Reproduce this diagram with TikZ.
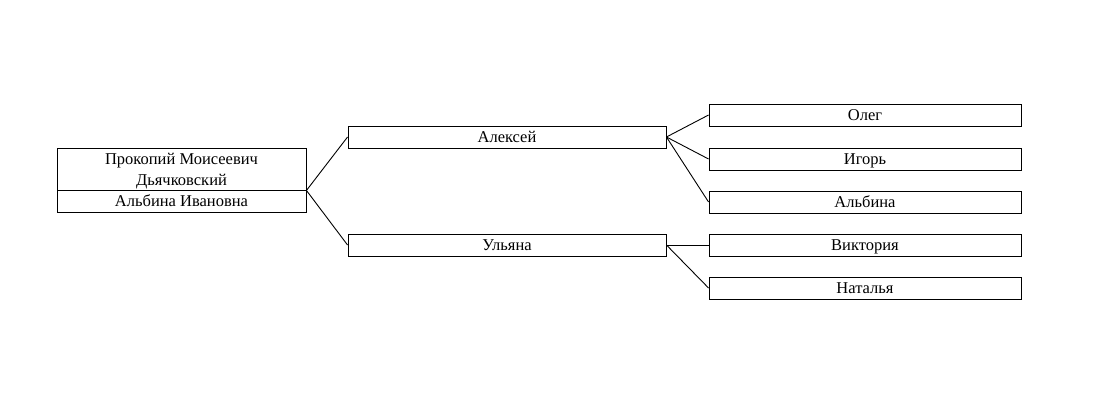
\documentclass[tikz,border=0pt]{standalone}
\usepackage{fontspec}
\setmainfont{Liberation Serif}

\begin{document}
\begin{tikzpicture}[x=1pt, y=-1pt, line width=0.9pt,
    person/.style={draw, inner sep=0pt, minimum height=22pt, align=center,
        text depth=0pt, font=\fontsize{16.5}{21}\selectfont},
    kid/.style={person, minimum width=312pt},
    child2/.style={person, minimum width=318pt}]
    \useasboundingbox (0,0) rectangle (1110,412);
    % root couple
    \node[person, minimum width=249pt, minimum height=42pt] (prokopij) at (181.5,169) {Прокопий Моисеевич\\Дьячковский};
    \node[person, minimum width=249pt] (albinaI) at (181.5,201) {Альбина Ивановна};
    % children
    \node[child2] (aleksej) at (507,137) {Алексей};
    \node[child2] (uljana) at (507,245) {Ульяна};
    % grandchildren
    \node[kid] (oleg) at (865,115) {Олег};
    \node[kid] (igor) at (865,159) {Игорь};
    \node[kid] (albina) at (865,202) {Альбина};
    \node[kid] (viktorija) at (865,245) {Виктория};
    \node[kid] (natalja) at (865,288) {Наталья};
    % lines
    \draw (prokopij.south east) -- (aleksej.west);
    \draw (prokopij.south east) -- (uljana.west);
    \foreach \g in {oleg, igor, albina}
        \draw (aleksej.east) -- (\g.west);
    \draw (uljana.east) -- (viktorija.west);
    \draw (uljana.east) -- (natalja.west);
\end{tikzpicture}
\end{document}
